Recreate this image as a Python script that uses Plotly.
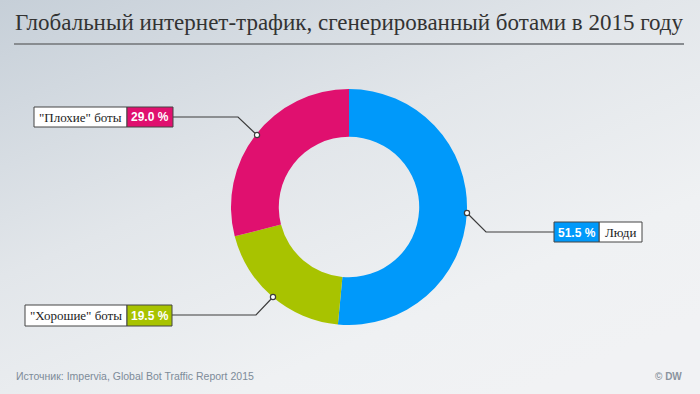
import plotly.graph_objects as go
import base64

# Data
labels = ["Люди", "\"Хорошие\" боты", "\"Плохие\" боты"]
values = [51.5, 19.5, 29.0]
colors = ["#0099fa", "#a8c300", "#e0106f"]
title_text = "Глобальный интернет-трафик, сгенерированный ботами в 2015 году"
source_text = "Источник: Impervia, Global Bot Traffic Report 2015"

W, H = 700, 394

def px(x):
    return x / W

def py(y):
    return 1 - y / H

svg = f'''<svg xmlns="http://www.w3.org/2000/svg" width="{W}" height="{H}">
<defs><linearGradient id="g" x1="0" y1="0" x2="0.75" y2="1">
<stop offset="0" stop-color="#c6cfd8"/>
<stop offset="0.45" stop-color="#e2e6ea"/>
<stop offset="0.8" stop-color="#eff1f3"/>
<stop offset="1" stop-color="#f1f2f4"/>
</linearGradient></defs>
<rect width="{W}" height="{H}" fill="url(#g)"/></svg>'''
bg_src = "data:image/svg+xml;base64," + base64.b64encode(svg.encode()).decode()

fig = go.Figure()
cx, cy, R = 349, 207, 118
fig.add_trace(go.Pie(
    labels=labels, values=values, hole=0.595, sort=False, direction="clockwise",
    rotation=0, marker=dict(colors=colors, line=dict(width=0)),
    textinfo="none", hoverinfo="label+percent", showlegend=False,
    domain=dict(x=[px(cx - R), px(cx + R)], y=[py(cy + R), py(cy - R)]),
))

shapes = []
annotations = []

# title underline
shapes.append(dict(type="line", xref="paper", yref="paper", x0=px(14), x1=px(684),
                   y0=py(44), y1=py(44), line=dict(color="#888c90", width=2)))

line_col = "#3c3c3c"

def leader(points, marker):
    path = "M " + " L ".join(f"{px(a)},{py(b)}" for a, b in points)
    shapes.append(dict(type="path", xref="paper", yref="paper", path=path,
                       line=dict(color=line_col, width=1.2)))
    mx, my = marker
    r = 2.6
    shapes.append(dict(type="circle", xref="paper", yref="paper",
                       x0=px(mx - r), x1=px(mx + r), y0=py(my + r), y1=py(my - r),
                       fillcolor="white", line=dict(color=line_col, width=1.2)))

def box(x0, x1, y0, y1, fill):
    shapes.append(dict(type="rect", xref="paper", yref="paper",
                       x0=px(x0), x1=px(x1), y0=py(y1), y1=py(y0),
                       fillcolor=fill, line=dict(color="#444444", width=1)))

def text(x, y, s, color, font, size, anchor="center"):
    annotations.append(dict(x=px(x), y=py(y), xref="paper", yref="paper", text=s,
                            showarrow=False, xanchor=anchor, yanchor="middle",
                            font=dict(family=font, size=size, color=color)))

serif = "Liberation Serif"
sans = "Liberation Sans"

# Плохие боты
leader([(173, 117), (238, 117), (257, 135)], (257, 135))
box(34, 127, 107, 127, "white")
box(127, 173, 107, 127, colors[2])
text(80.5, 117.5, labels[2], "#222222", serif, 13)
text(150, 117.5, f"<b>{values[2]:.1f} %</b>", "white", sans, 12)

# Хорошие боты
leader([(172, 315), (256, 315), (273, 297)], (273, 297))
box(25, 127, 305, 326, "white")
box(127, 172, 305, 326, colors[1])
text(76, 315.5, labels[1], "#222222", serif, 13)
text(149.5, 315.5, f"<b>{values[1]:.1f} %</b>", "white", sans, 12)

# Люди
leader([(467, 213), (486, 232), (554, 232)], (467, 213))
box(599, 642, 222, 242, "white")
box(554, 599, 222, 242, colors[0])
text(620.5, 232.5, labels[0], "#222222", serif, 13)
text(576.5, 232.5, f"<b>{values[0]:.1f} %</b>", "white", sans, 12)

# title
annotations.append(dict(x=px(13), y=py(22), xref="paper", yref="paper", text=title_text,
                        showarrow=False, xanchor="left", yanchor="middle",
                        font=dict(family=serif, size=23, color="#333333")))
# source
annotations.append(dict(x=px(14), y=py(376), xref="paper", yref="paper", text=source_text,
                        showarrow=False, xanchor="left", yanchor="middle",
                        font=dict(family=sans, size=10.5, color="#7d8b99")))
annotations.append(dict(x=px(684), y=py(376), xref="paper", yref="paper", text="<b>© DW</b>",
                        showarrow=False, xanchor="right", yanchor="middle",
                        font=dict(family=sans, size=10, color="#8a949e")))

fig.update_layout(
    width=W, height=H, margin=dict(l=0, r=0, t=0, b=0),
    paper_bgcolor="#eef0f3", plot_bgcolor="#eef0f3",
    shapes=shapes, annotations=annotations,
    images=[dict(source=bg_src, xref="paper", yref="paper", x=0, y=1, sizex=1, sizey=1,
                 xanchor="left", yanchor="top", sizing="stretch", layer="below")],
)

fig.write_html("out.html", config={"displayModeBar": False},
               post_script="document.body.style.margin='0';document.body.style.overflow='hidden';")
